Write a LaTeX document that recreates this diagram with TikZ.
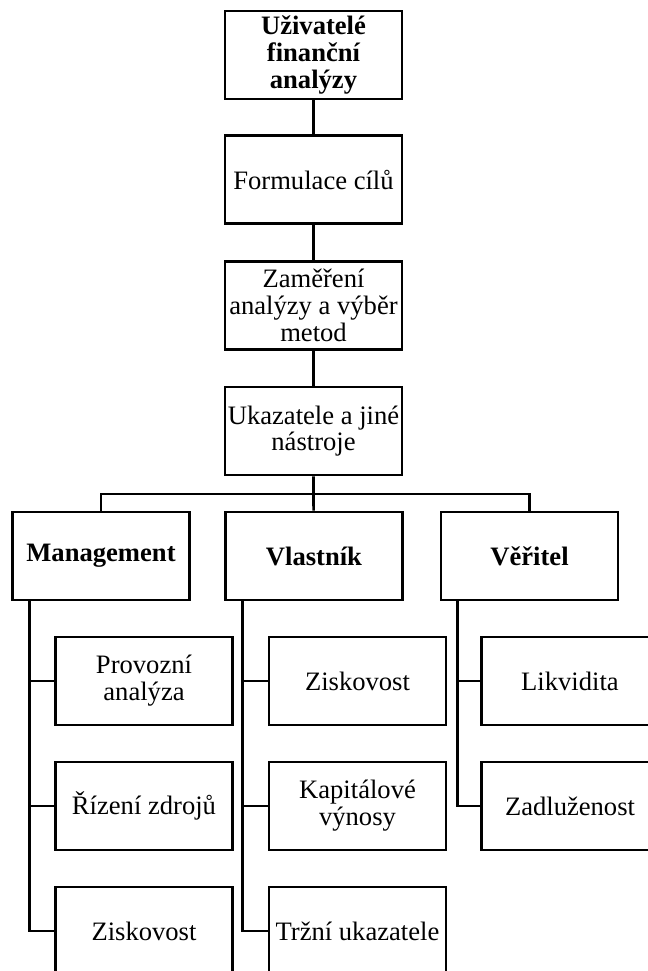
\documentclass[tikz,border=0pt]{standalone}
\usepackage{fontspec}
\setmainfont{Liberation Serif}
\usetikzlibrary{positioning}

\tikzset{
  blok/.style={draw, line width=1.35pt, minimum width=88.5pt, minimum height=44pt,
    inner sep=0.5pt, align=center, font=\fontsize{13.3}{13.4}\selectfont},
  blokb/.style={blok, font=\fontsize{13.3}{13.4}\selectfont\bfseries},
  spoj/.style={line width=1.35pt}
}

\begin{document}
\begin{tikzpicture}[x=0.5pt, y=-0.5pt]

  \useasboundingbox (0,0) rectangle (648,971);
  \clip (0,0) rectangle (648,971);

  % --- hlavni osa ---
  \node[blokb] (uziv) at (313.5,55) {U\v{z}ivatel\'e\\finan\v{c}n\'i\\anal\'yzy};
  \node[blok] (cile) at (313.5,179.5) {Formulace c\'il\r{u}};
  \node[blok] (zam) at (313.5,305.5) {Zam\v{e}\v{r}en\'i\\anal\'yzy a v\'yb\v{e}r\\metod};
  \node[blok] (ukaz) at (313.5,431) {Ukazatele a jin\'e\\n\'astroje};

  \draw[spoj] (uziv) -- (cile);
  \draw[spoj] (cile) -- (zam);
  \draw[spoj] (zam) -- (ukaz);

  % --- uzivatele ---
  \node[blokb] (man) at (101,556) {Management};
  \node[blokb] (vla) at (314,556) {Vlastn\'ik};
  \node[blokb] (ver) at (529.5,556) {V\v{e}\v{r}itel};

  \coordinate (sbernice) at (313.5,494);
  \draw[spoj] (ukaz) -- (sbernice) -- (vla);
  \draw[spoj] (man.north) |- (sbernice) -| (ver.north);

  % --- Management ---
  \node[blok] (m1) at (144,681) {Provozn\'i\\anal\'yza};
  \node[blok] (m2) at (144,806) {\v{R}\'izen\'i zdroj\r{u}};
  \node[blok] (m3) at (144,931) {Ziskovost};

  % --- Vlastnik ---
  \node[blok] (v1) at (357.5,681) {Ziskovost};
  \node[blok] (v2) at (357.5,806) {Kapit\'alov\'e\\v\'ynosy};
  \node[blok] (v3) at (357.5,931) {Tr\v{z}n\'i ukazatele};

  % --- Veritel ---
  \node[blok] (r1) at (570,681) {Likvidita};
  \node[blok] (r2) at (570,806) {Zadlu\v{z}enost};

  \foreach \d in {m1, m2, m3}
    \draw[spoj] ([xshift=9pt]man.south west) |- (\d.west);
  \foreach \d in {v1, v2, v3}
    \draw[spoj] ([xshift=9pt]vla.south west) |- (\d.west);
  \foreach \d in {r1, r2}
    \draw[spoj] ([xshift=9pt]ver.south west) |- (\d.west);

\end{tikzpicture}
\end{document}
